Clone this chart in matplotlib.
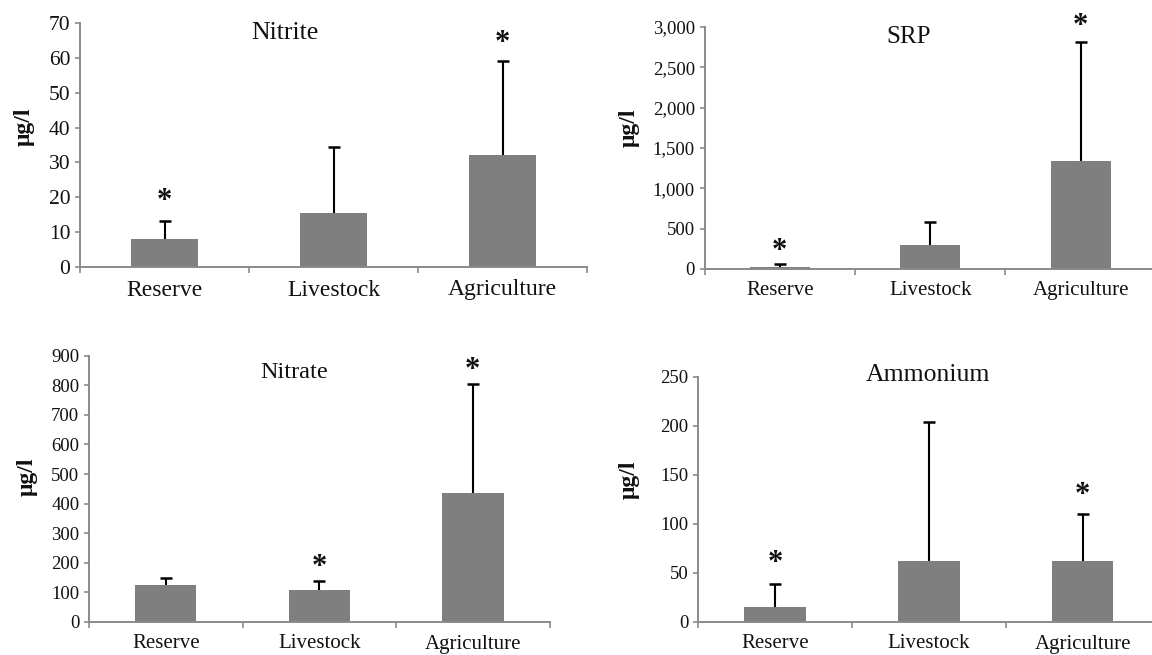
import matplotlib
matplotlib.use("Agg")
import matplotlib.pyplot as plt
from matplotlib.ticker import FuncFormatter, FixedLocator, NullFormatter

plt.rcParams['font.family'] = ['Liberation Serif', 'DejaVu Serif']

categories = ["Reserve", "Livestock", "Agriculture"]

nitrite_mean = [8.0, 15.4, 32.0]
nitrite_err = [5.1, 19.1, 27.1]
nitrite_stars = [20.7, None, 66.0]

srp_mean = [29, 297, 1343]
srp_err = [29, 290, 1471]
srp_stars = [297, None, 3087]

nitrate_mean = [124, 108, 437]
nitrate_err = [26, 29.5, 368]
nitrate_stars = [None, 204, 871]

ammonium_mean = [15.3, 62.5, 62.5]
ammonium_err = [23.7, 141, 47.5]
ammonium_stars = [66.5, None, 135.5]

W, H = 1152, 655
fig = plt.figure(figsize=(W / 100, H / 100), dpi=100)

BAR = "#7f7f7f"
SPINE = "#8a8a8a"

panels = [
    dict(name="Nitrite", mean=nitrite_mean, err=nitrite_err, stars=nitrite_stars,
         box=(80, 267, 23, 587), ylim=70, step=10, comma=False,
         fs=(15.5, 17, 18.5), tpos=(285, 33), ypos=(24, 127)),
    dict(name="SRP", mean=srp_mean, err=srp_err, stars=srp_stars,
         box=(704.5, 269, 27, 1156), ylim=3000, step=500, comma=True,
         fs=(13.5, 15, 18), tpos=(909, 37), ypos=(629, 128)),
    dict(name="Nitrate", mean=nitrate_mean, err=nitrate_err, stars=nitrate_stars,
         box=(89, 622, 355.7, 549.6), ylim=900, step=100, comma=False,
         fs=(13.5, 15, 17.5), tpos=(294, 373), ypos=(27, 477)),
    dict(name="Ammonium", mean=ammonium_mean, err=ammonium_err, stars=ammonium_stars,
         box=(698, 622, 376.7, 1159.5), ylim=250, step=50, comma=False,
         fs=(13.5, 15, 18.5), tpos=(928, 375), ypos=(629, 480)),
]

for p in panels:
    l, b, t, r = p["box"]
    ax = fig.add_axes([l / W, 1 - b / H, (r - l) / W, (b - t) / H])
    x = [0.5, 1.5, 2.5]
    ax.bar(x, p["mean"], width=0.4, color=BAR, zorder=2)
    tops = [m + e for m, e in zip(p["mean"], p["err"])]
    ax.vlines(x, p["mean"], tops, color="black", linewidth=1.5, zorder=3,
              clip_on=False)
    ax.plot(x, tops, linestyle="none", marker="_", markersize=8,
            markeredgewidth=1.8, color="black", zorder=3, clip_on=False)
    for xi, s in zip(x, p["stars"]):
        if s is not None:
            ax.annotate("*", (xi, s), xytext=(0, -4.5), textcoords="offset points",
                        ha="center", va="center", fontsize=22,
                        fontweight="bold", color="#111111", annotation_clip=False)
    ax.set_xlim(0, 3)
    ax.set_ylim(0, p["ylim"])
    ax.set_yticks(range(0, p["ylim"] + 1, p["step"]))
    if p["comma"]:
        ax.yaxis.set_major_formatter(FuncFormatter(lambda v, pos: f"{int(v):,}"))
    ax.xaxis.set_major_locator(FixedLocator([0, 1, 2, 3]))
    ax.xaxis.set_major_formatter(NullFormatter())
    ax.xaxis.set_minor_locator(FixedLocator(x))
    ax.set_xticklabels(categories, minor=True)
    ax.tick_params(axis="x", which="minor", length=0, pad=9,
                   labelsize=p["fs"][1], labelcolor="#111111")
    ax.tick_params(axis="x", which="major", length=4, width=1.2, color=SPINE,
                   direction="out")
    ax.tick_params(axis="y", length=3.5, width=1.2, color=SPINE, pad=3.5,
                   labelsize=p["fs"][0], labelcolor="#111111", direction="out")
    for side in ("top", "right"):
        ax.spines[side].set_visible(False)
    for side in ("left", "bottom"):
        ax.spines[side].set_color(SPINE)
        ax.spines[side].set_linewidth(1.4)
    fig.text(p["tpos"][0] / W, 1 - p["tpos"][1] / H, p["name"], ha="center",
             va="center", fontsize=p["fs"][2], color="#111111")
    fig.text(p["ypos"][0] / W, 1 - p["ypos"][1] / H, "μg/l", ha="center",
             va="center", rotation=90, fontsize=17, fontweight="bold",
             color="#111111")

fig.savefig("out.png", dpi=100)
